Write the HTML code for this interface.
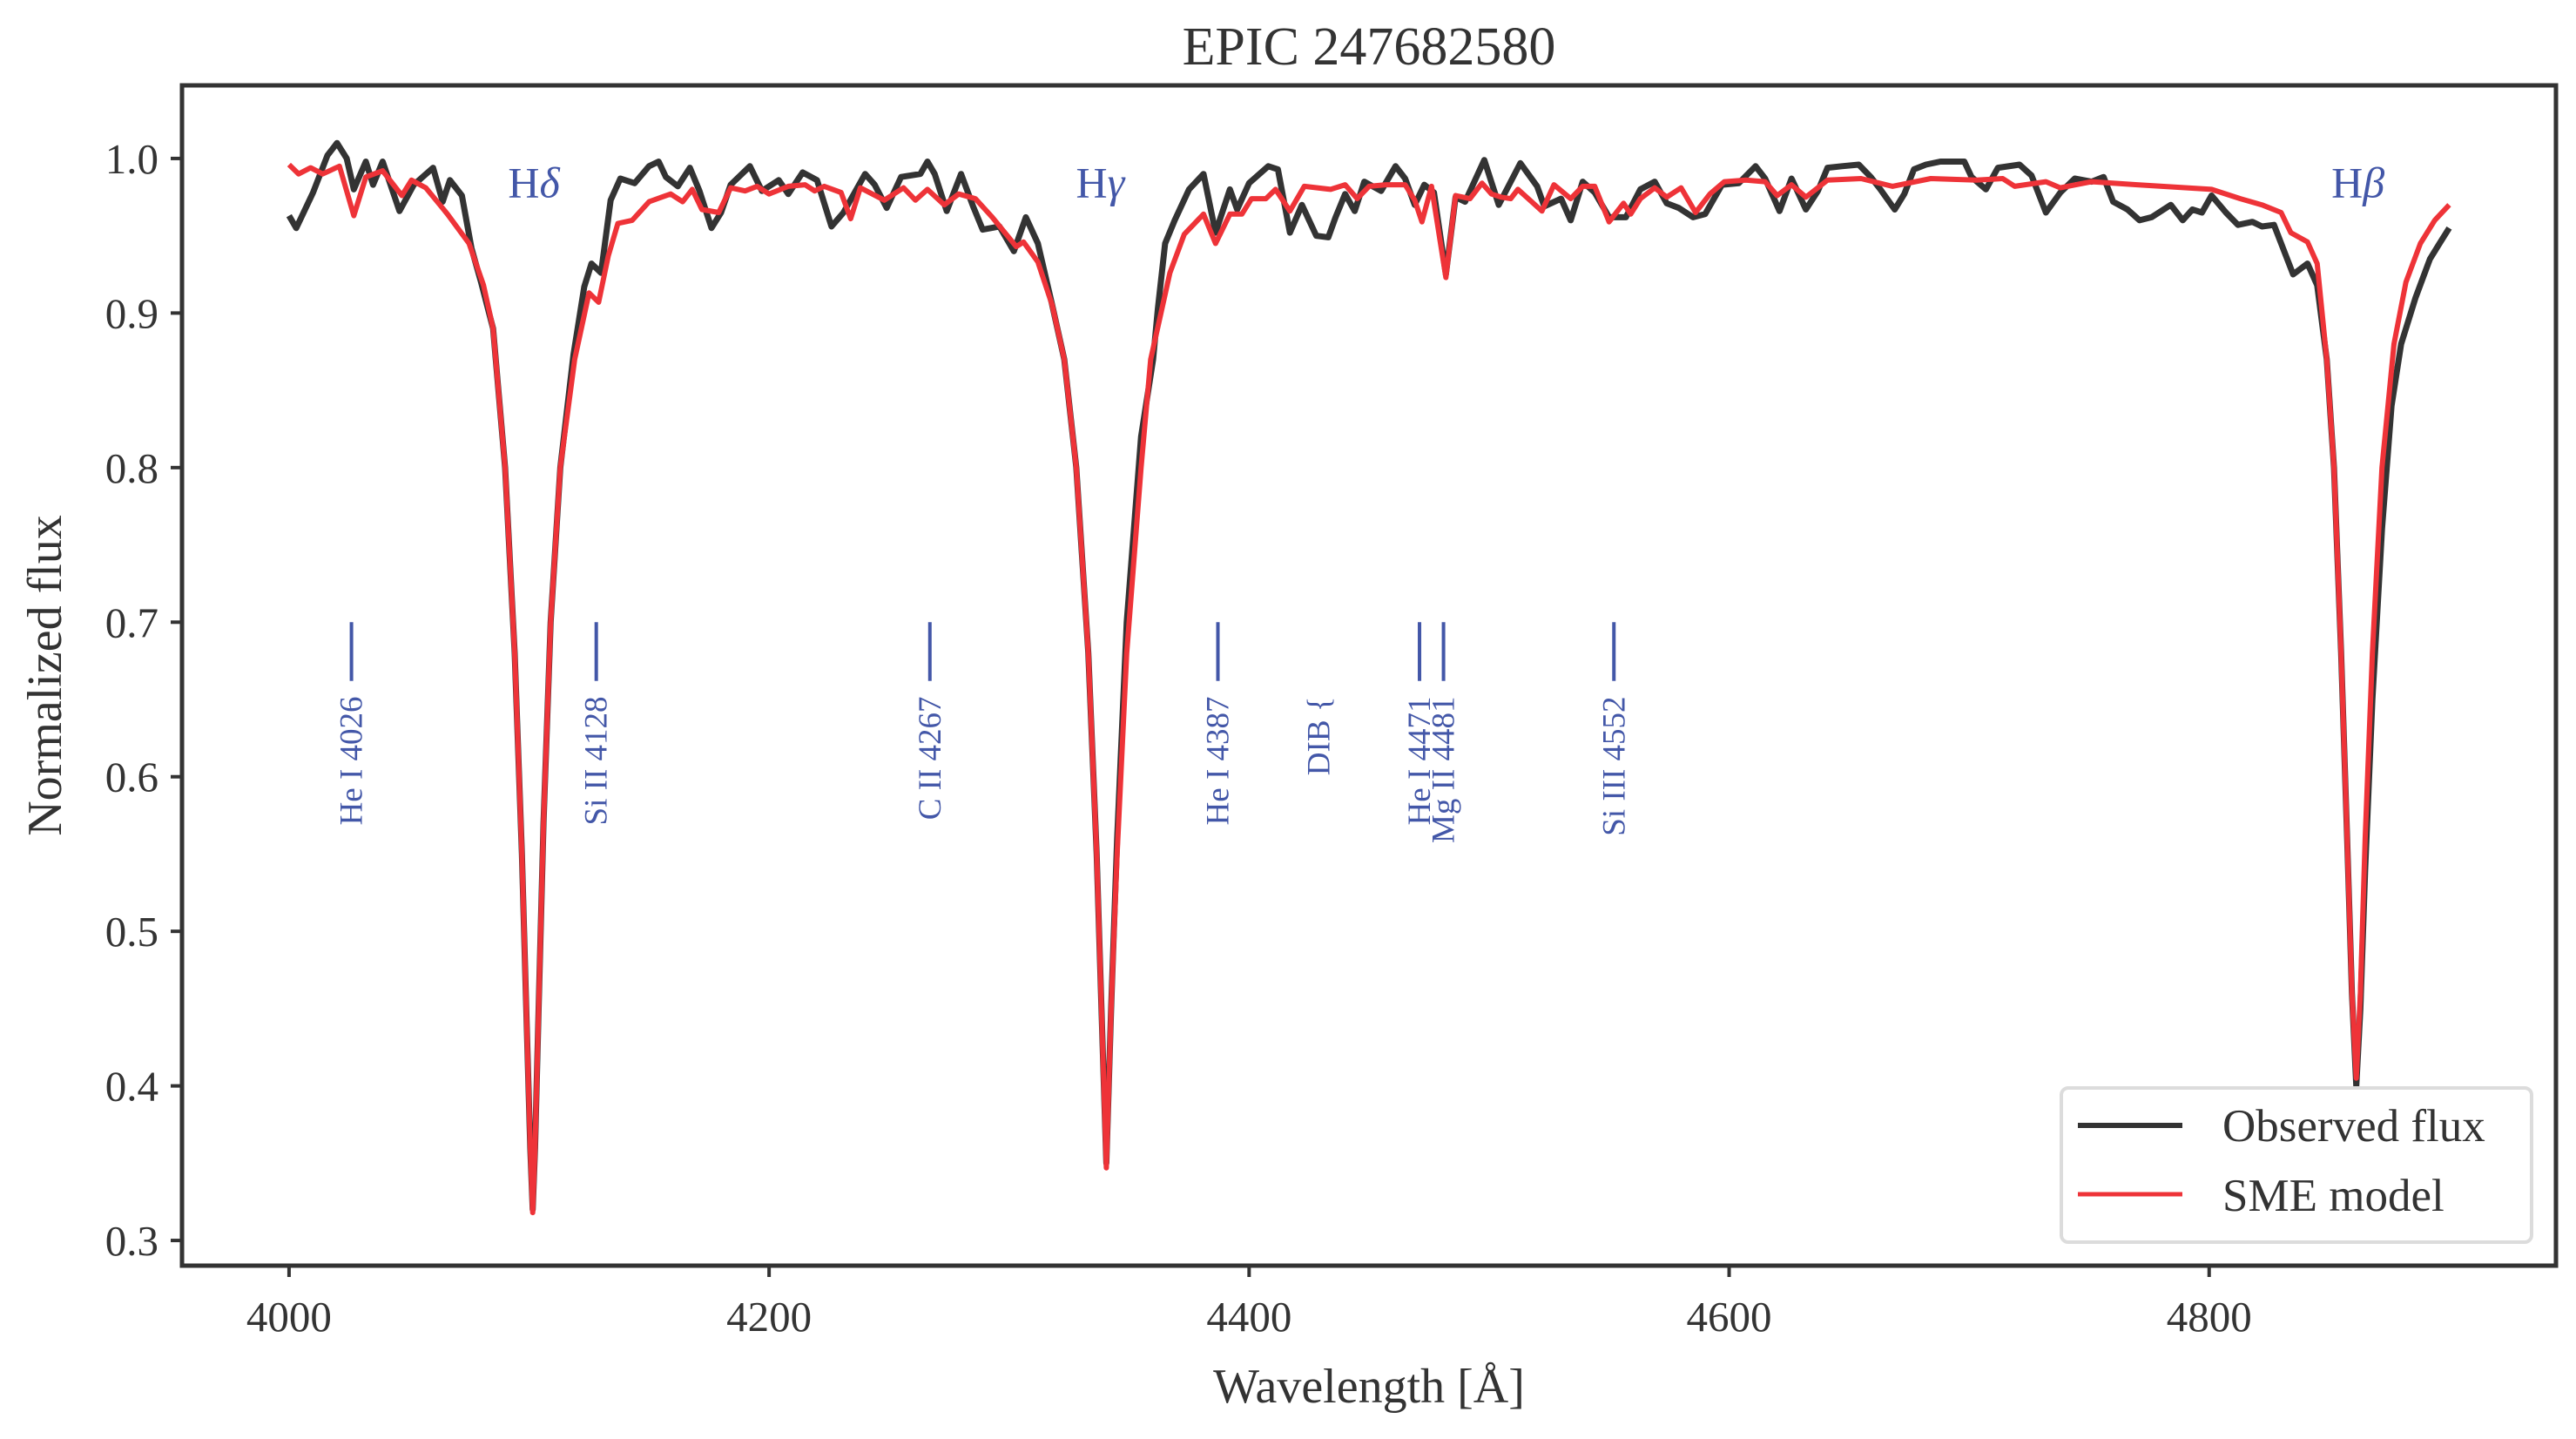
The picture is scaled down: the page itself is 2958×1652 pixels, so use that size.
<!DOCTYPE html>
<html><head><meta charset="utf-8"><style>
html,body{margin:0;padding:0;background:#fff;}
svg{display:block;font-family:"Liberation Serif",serif;}
</style></head><body>
<svg id="chart" width="2958" height="1652" viewBox="0 0 2958 1652" xmlns="http://www.w3.org/2000/svg"></svg>
<script>
const obsWave=[4000,4003,4010,4016,4020,4024,4027,4032,4035,4039,4046,4052,4060,4064,4067,4072,4076,4080,4085,4090,4094,4097,4099,4100.5,4101.5,4102.5,4104,4106,4109,4113,4118.5,4123,4126,4130,4134,4138,4144,4150,4154,4157,4162,4167,4171,4176,4180,4184,4192,4197,4204,4208,4214,4220,4226,4231,4240,4244,4249,4255,4263,4266,4269,4274,4280,4285,4289,4296,4302,4307,4312,4318,4323,4328,4333,4336.5,4338.5,4340.5,4342.5,4345,4349,4355,4360,4362,4365,4369,4375,4381,4386,4392,4395,4400,4408,4412,4417,4422,4428,4433,4436,4440,4444,4448,4455,4461,4465,4469,4473,4477,4482,4486,4490,4498,4504,4513,4520,4523,4530,4534,4539,4544,4550,4557,4563,4569,4574,4579,4585,4590,4597,4604,4611,4615,4621,4626,4632,4637,4641,4647,4654,4659,4663,4669,4673,4677,4682,4688,4698,4701,4707,4712,4721,4726,4732,4738,4744,4751,4756,4760,4766,4771,4776,4784,4789,4793,4797,4801,4807,4812,4818,4822,4827,4831,4835,4841,4845,4849,4852,4855,4857.5,4859.5,4861.3,4863,4865,4868,4872,4876,4880,4886,4892,4896,4900];
const obsFlux=[0.963,0.955,0.978,1.002,1.010,1.000,0.980,0.998,0.983,0.998,0.966,0.983,0.994,0.972,0.986,0.976,0.942,0.920,0.89,0.80,0.68,0.55,0.44,0.36,0.32,0.36,0.45,0.57,0.70,0.80,0.873,0.917,0.932,0.926,0.973,0.987,0.984,0.995,0.998,0.988,0.982,0.994,0.979,0.955,0.965,0.983,0.995,0.979,0.986,0.977,0.991,0.986,0.956,0.965,0.990,0.983,0.968,0.988,0.990,0.998,0.990,0.966,0.990,0.969,0.954,0.956,0.940,0.962,0.945,0.905,0.87,0.80,0.68,0.55,0.45,0.35,0.45,0.56,0.70,0.82,0.87,0.903,0.945,0.960,0.980,0.990,0.952,0.980,0.967,0.984,0.995,0.993,0.952,0.970,0.950,0.949,0.962,0.977,0.966,0.985,0.979,0.995,0.987,0.970,0.983,0.978,0.925,0.975,0.972,0.999,0.970,0.997,0.982,0.969,0.974,0.960,0.985,0.978,0.962,0.962,0.980,0.985,0.971,0.968,0.962,0.964,0.983,0.984,0.995,0.987,0.966,0.987,0.967,0.979,0.994,0.995,0.996,0.988,0.980,0.967,0.977,0.993,0.996,0.998,0.998,0.988,0.980,0.994,0.996,0.989,0.965,0.978,0.987,0.985,0.988,0.972,0.967,0.960,0.962,0.970,0.960,0.967,0.965,0.976,0.965,0.957,0.959,0.956,0.957,0.941,0.925,0.932,0.918,0.87,0.80,0.68,0.56,0.46,0.40,0.45,0.54,0.65,0.76,0.84,0.88,0.91,0.935,0.945,0.955];
const modWave=[4000,4004,4009,4014,4021,4027,4032,4039,4047,4051,4057,4066,4075,4081,4085,4090,4094,4097,4099,4100.5,4101.5,4102.5,4104,4106,4109,4113,4119,4125,4129,4133,4137,4143,4150,4159,4164,4168,4172,4179,4184,4190,4195,4200,4208,4215,4219,4223,4230,4234,4238,4248,4256,4261,4266,4273,4279,4286,4293,4303,4306,4312,4318,4323,4328,4333,4336.5,4338.5,4340.5,4342.5,4345,4349,4355,4359,4367,4373,4381,4386,4392,4397,4401,4407,4411,4417,4423,4434,4440,4445,4450,4457,4465,4469,4472,4476,4482,4486,4492,4497,4501,4505,4509,4512,4517,4522,4527,4534,4539,4544,4550,4556,4559,4563,4569,4574,4580,4586,4592,4598,4607,4615,4620,4626,4632,4641,4655,4668,4684,4703,4714,4719,4732,4738,4751,4770,4801,4813,4822,4830,4834,4841,4845,4849,4852,4855,4857.5,4859.5,4861.3,4863,4865,4868,4872,4877,4882,4888,4894,4900];
const modFlux=[0.996,0.990,0.994,0.990,0.995,0.963,0.988,0.992,0.976,0.986,0.981,0.964,0.945,0.918,0.89,0.80,0.68,0.55,0.44,0.36,0.318,0.36,0.45,0.57,0.70,0.80,0.87,0.913,0.907,0.937,0.958,0.960,0.972,0.977,0.972,0.980,0.967,0.965,0.981,0.979,0.982,0.977,0.982,0.983,0.979,0.982,0.978,0.961,0.981,0.973,0.981,0.973,0.980,0.970,0.977,0.974,0.962,0.943,0.946,0.933,0.905,0.87,0.80,0.68,0.55,0.45,0.347,0.45,0.55,0.68,0.80,0.87,0.926,0.951,0.964,0.945,0.964,0.964,0.974,0.974,0.980,0.966,0.982,0.980,0.983,0.974,0.982,0.983,0.983,0.973,0.959,0.982,0.923,0.976,0.974,0.984,0.977,0.975,0.974,0.980,0.973,0.966,0.983,0.974,0.982,0.982,0.959,0.971,0.964,0.974,0.981,0.975,0.981,0.965,0.977,0.985,0.986,0.985,0.976,0.983,0.975,0.986,0.987,0.982,0.987,0.986,0.987,0.982,0.985,0.981,0.985,0.983,0.980,0.974,0.970,0.965,0.952,0.946,0.932,0.87,0.80,0.68,0.56,0.46,0.405,0.46,0.56,0.68,0.80,0.88,0.92,0.945,0.96,0.97];
const xTicks=[4000,4200,4400,4600,4800];
const yTicks=[0.3,0.4,0.5,0.6,0.7,0.8,0.9,1.0];
const lineWaves=[4026,4128,4267,4387,4471,4481,4552];
const lineLabels=["He I 4026","Si II 4128","C II 4267","He I 4387","He I 4471","Mg II 4481","Si III 4552"];
const balmerWaves=[4102,4338,4862];
const balmerNames=["\u03b4","\u03b3","\u03b2"];

const L=209,R=2935,T=98,B=1453;
const X0=3955.4,X1=4944.5,Y0=0.2837,Y1=1.0473;
function sx(v){return L+(v-X0)/(X1-X0)*(R-L);}
function sy(v){return B-(v-Y0)/(Y1-Y0)*(B-T);}
const NS="http://www.w3.org/2000/svg";
const svg=document.getElementById('chart');
function mk(tag,attrs,parent){const e=document.createElementNS(NS,tag);for(const k in attrs)e.setAttribute(k,attrs[k]);(parent||svg).appendChild(e);return e;}

let t=mk('text',{x:(L+R)/2,y:74,'text-anchor':'middle','font-size':62,fill:'#333'});
t.textContent='EPIC 247682580';



function path(ws,fs){return ws.map((w,i)=>(i?'L':'M')+sx(w).toFixed(1)+' '+sy(fs[i]).toFixed(1)).join(' ');}
let po=mk('path',{d:path(obsWave,obsFlux),fill:'none',stroke:'#333333','stroke-width':7,'stroke-linejoin':'round'});


let pm=mk('path',{d:path(modWave,modFlux),fill:'none',stroke:'#ee3338','stroke-width':6,'stroke-linejoin':'round'});



lineWaves.forEach((w,i)=>{
  const x=sx(w);
  let g=mk('g',{});
  
  
  mk('line',{x1:x,x2:x,y1:sy(0.700),y2:sy(0.662),stroke:'#4357a8','stroke-width':4},g);
  let tx=mk('text',{x:0,y:0,transform:`translate(${x+12},${sy(0.652)}) rotate(-90)`,'text-anchor':'end','font-size':37,fill:'#4357a8'},g);
  tx.textContent=lineLabels[i];
  
  
});
let dib=mk('text',{x:0,y:0,transform:`translate(${sx(4429)+12},${sy(0.652)}) rotate(-90)`,'text-anchor':'end','font-size':37,fill:'#4357a8'});
dib.textContent='DIB {';



balmerWaves.forEach((w,i)=>{
  let tx=mk('text',{x:sx(w),y:sy(0.975),'text-anchor':'middle','font-size':50,fill:'#4357a8'});
  tx.innerHTML='H<tspan font-style="italic">'+balmerNames[i]+'</tspan>';
  
  
});

let fr=mk('rect',{x:L,y:T,width:R-L,height:B-T,fill:'none',stroke:'#333','stroke-width':5});



xTicks.forEach(v=>{
  const x=sx(v);
  let tk=mk('line',{x1:x,x2:x,y1:B,y2:B+13,stroke:'#333','stroke-width':4});
  
  
  let tl=mk('text',{x:x,y:1528,'text-anchor':'middle','font-size':49,fill:'#333'});
  tl.textContent=v;
  
  
});
yTicks.forEach(v=>{
  const y=sy(v);
  let tk=mk('line',{x1:L-13,x2:L,y1:y,y2:y,stroke:'#333','stroke-width':4});
  
  
  let tl=mk('text',{x:182,y:y+17,'text-anchor':'end','font-size':49,fill:'#333'});
  tl.textContent=v.toFixed(1);
  
  
});
let xl=mk('text',{x:(L+R)/2,y:1610,'text-anchor':'middle','font-size':56,fill:'#333'});
xl.textContent='Wavelength  [\u00c5]';


let yl=mk('text',{x:0,y:0,transform:`translate(70,${(T+B)/2}) rotate(-90)`,'text-anchor':'middle','font-size':56,fill:'#333'});
yl.textContent='Normalized flux';



let lg=mk('g',{});


mk('rect',{x:2367,y:1249,width:540,height:177,rx:8,fill:'#fff',stroke:'#dcdcdc','stroke-width':4},lg);
let e1=mk('g',{},lg);


mk('line',{x1:2386,x2:2506,y1:1292,y2:1292,stroke:'#333','stroke-width':6},e1);
let lt1=mk('text',{x:2552,y:1310,'font-size':53,fill:'#333'},e1);lt1.textContent='Observed flux';
let e2=mk('g',{},lg);


mk('line',{x1:2386,x2:2506,y1:1371,y2:1371,stroke:'#ee3338','stroke-width':5},e2);
let lt2=mk('text',{x:2552,y:1390,'font-size':53,fill:'#333'},e2);lt2.textContent='SME model';
</script>
</body></html>
